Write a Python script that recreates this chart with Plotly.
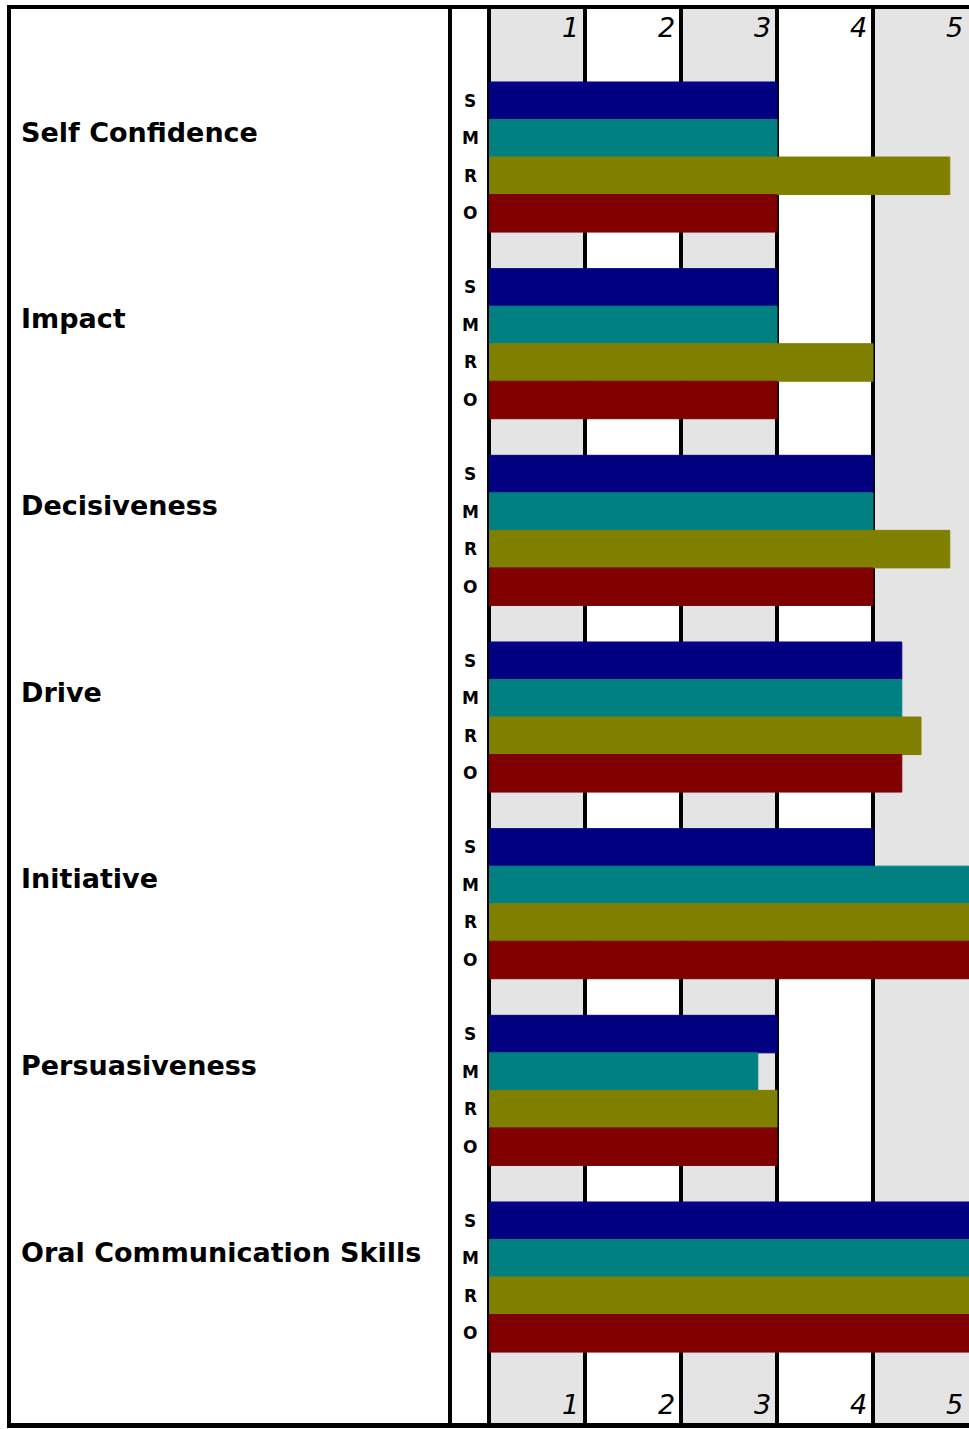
import plotly.graph_objects as go

categories = ["Self Confidence", "Impact", "Decisiveness", "Drive",
              "Initiative", "Persuasiveness", "Oral Communication Skills"]
series_names = ["S", "M", "R", "O"]
S_vals = [3, 3, 4, 4.3, 4, 3, 5]
M_vals = [3, 3, 4, 4.3, 5, 2.8, 5]
R_vals = [4.8, 4, 4.8, 4.5, 5, 3, 5]
O_vals = [3, 3, 4, 4.3, 5, 3, 5]
tick_labels = ["1", "2", "3", "4", "5"]
tick_values = [1, 2, 3, 4, 5]

colors = ["#000080", "#008080", "#808000", "#800000"]

W, H = 969, 1429
L, R, T, B = 489, 0, 9, 6
PW = W - L - R
PH = H - T - B

def px_x(p):
    return (p - L) / PW

def px_y(q):
    return (H - B - q) / PH

fig = go.Figure()
for name, vals, col in zip(series_names, [S_vals, M_vals, R_vals, O_vals], colors):
    fig.add_trace(go.Bar(y=categories, x=vals, orientation="h", name=name,
                         marker=dict(color=col, line=dict(width=1, color=col)),
                         showlegend=False, hoverinfo="x+y"))

shapes = []
# alternating grey bands
for a, b in [(0, 1), (2, 3), (4, 5)]:
    shapes.append(dict(type="rect", xref="x", yref="paper", x0=a, x1=b, y0=0, y1=1,
                       fillcolor="#e4e4e4", line=dict(width=0), layer="below"))
# frame lines
blk = "#000000"
shapes += [
    dict(type="line", xref="paper", yref="paper", x0=px_x(7), x1=px_x(975), y0=px_y(7), y1=px_y(7),
         line=dict(color=blk, width=4)),
    dict(type="line", xref="paper", yref="paper", x0=px_x(7), x1=px_x(975), y0=px_y(1425.5), y1=px_y(1425.5),
         line=dict(color=blk, width=5)),
    dict(type="line", xref="paper", yref="paper", x0=px_x(9), x1=px_x(9), y0=px_y(5), y1=px_y(1428),
         line=dict(color=blk, width=4)),
    dict(type="line", xref="paper", yref="paper", x0=px_x(450), x1=px_x(450), y0=px_y(5), y1=px_y(1428),
         line=dict(color=blk, width=4)),
]

annotations = []
# category labels
for c in categories:
    annotations.append(dict(x=px_x(19), xref="paper", y=c, yref="y", text=c, showarrow=False,
                            xanchor="left", yanchor="middle", yshift=25,
                            font=dict(family="DejaVu Sans", size=27, color="black", weight="bold")))
# S/M/R/O letters
bargap = 0.196
bw = (1 - bargap) / 4
offsets = [-1.5 * bw, -0.5 * bw, 0.5 * bw, 1.5 * bw]
for i, c in enumerate(categories):
    for s, off in zip(series_names, offsets):
        annotations.append(dict(x=px_x(470), xref="paper", y=i + off, yref="y", text=s,
                                showarrow=False, xanchor="center", yanchor="middle",
                                font=dict(family="DejaVu Sans", size=17, color="black", weight="bold")))
# top & bottom tick labels
for tv, tl in zip(tick_values, tick_labels):
    for yy in (px_y(28), px_y(1404)):
        annotations.append(dict(x=tv, xref="x", y=yy, yref="paper", text=tl, showarrow=False,
                                xanchor="right", yanchor="middle", xshift=-4,
                                font=dict(family="DejaVu Sans", size=27, color="black", style="italic")))

fig.update_layout(
    width=W, height=H,
    margin=dict(l=L, r=R, t=T, b=B, pad=0),
    barmode="group", bargap=bargap, bargroupgap=0,
    plot_bgcolor="white", paper_bgcolor="white",
    shapes=shapes, annotations=annotations,
    xaxis=dict(range=[0, 5], tickvals=[1, 2, 3, 4], showticklabels=False, ticks="",
               showgrid=True, gridcolor=blk, gridwidth=4,
               zeroline=True, zerolinecolor=blk, zerolinewidth=4, showline=False, fixedrange=True),
    yaxis=dict(type="category", range=[6.782, -0.793], showticklabels=False, ticks="",
               showgrid=False, zeroline=False, showline=False, fixedrange=True),
)

fig.write_html("out.html")
